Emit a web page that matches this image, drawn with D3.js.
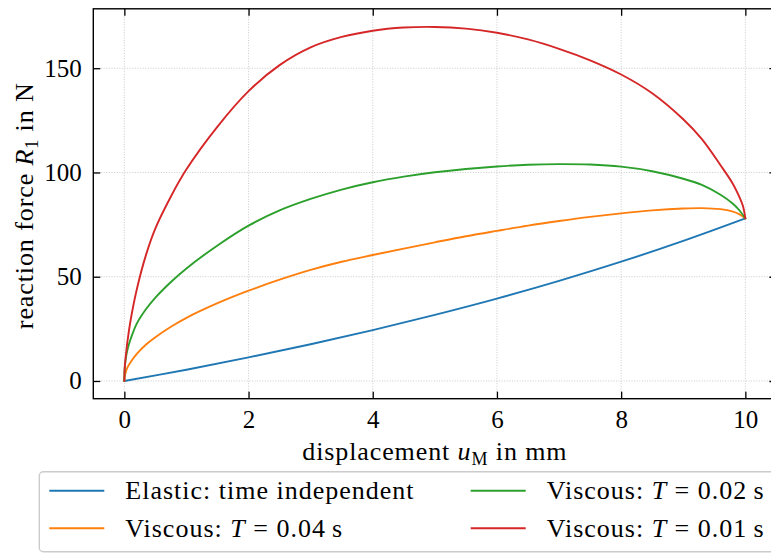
<!DOCTYPE html>
<html>
<head>
<meta charset="utf-8">
<script src="https://cdn.jsdelivr.net/npm/d3@7"></script>
<style>
  body { margin: 0; background: #fff; }
  svg { display: block; }
  text { font-family: "Liberation Serif", "Times New Roman", serif; fill: #000; }
</style>
</head>
<body>
<svg id="chart" width="771" height="554"></svg>
<script>
// values (displacement u in mm, force R in N)
var elasticU = [0, 1, 2, 3, 4, 5, 6, 7, 8, 9, 10];
var elasticR = [0, 5.4, 11.3, 17.6, 24.4, 31.7, 39.5, 48, 57.2, 67.2, 78];

var visc04U = [0, 0.005, 0.02, 0.05, 0.1, 0.2, 0.35, 0.5, 0.75, 1, 1.5, 2, 2.5, 3, 3.5, 4, 4.5, 5, 5.5, 6, 6.5, 7, 7.5, 8, 8.5, 9, 9.3, 9.6, 9.8, 9.9, 10];
var visc04R = [0, 2, 4, 6.5, 9, 13, 17.5, 21, 26, 30.3, 37.3, 43.3, 48.6, 53.3, 57.2, 60.4, 63.5, 66.5, 69.4, 72, 74.5, 76.7, 78.7, 80.4, 81.8, 82.7, 82.9, 82.4, 81.2, 80, 78];

var visc02U = [0, 0.005, 0.02, 0.05, 0.1, 0.2, 0.35, 0.5, 0.75, 1, 1.5, 2, 2.5, 3, 3.5, 4, 4.5, 5, 5.5, 6, 6.5, 7, 7.5, 8, 8.5, 9, 9.3, 9.6, 9.8, 9.9, 10];
var visc02R = [0, 5.5, 10, 15, 20, 27.5, 34.5, 40, 47.5, 54, 65, 74.5, 81.8, 87.3, 91.8, 95.3, 98, 100.1, 101.7, 102.9, 103.7, 104, 103.8, 102.8, 100.6, 97, 94, 89.3, 85, 82, 78];

var visc01U = [0, 0.005, 0.02, 0.05, 0.1, 0.2, 0.35, 0.5, 0.75, 1, 1.5, 2, 2.5, 3, 3.5, 4, 4.5, 5, 5.5, 6, 6.5, 7, 7.5, 8, 8.5, 9, 9.3, 9.6, 9.8, 9.9, 9.96, 10];
var visc01R = [0, 6, 11, 19, 29, 43.9, 60.6, 73.2, 88.5, 101.5, 122, 139, 151.5, 160, 165, 168, 169.5, 169.8, 169, 167, 163.8, 159.3, 153.8, 147, 138, 125.5, 116, 103.5, 94.5, 88.5, 84, 78];

var xTicks = [0, 2, 4, 6, 8, 10];
var yTicks = [0, 50, 100, 150];

var seriesNames = ["elastic", "visc04", "visc02", "visc01"];
var seriesColors = ["#1f77b4", "#ff7f0e", "#2ca02c", "#d62728"];

var svg = d3.select("#chart");
var margin = {top: 8.8, left: 93.3, bottom: 554 - 398.7, right: 771 - 776.4};
var width = 771 - margin.left - margin.right;
var height = 554 - margin.top - margin.bottom;

var xScale = d3.scaleLinear().domain([-0.5, 10.5]).range([0, width]);
var yScale = d3.scaleLinear().domain([-8.5, 178.5]).range([height, 0]);

var g = svg.append("g")
  .attr("transform", "translate(" + margin.left + "," + margin.top + ")");

// dotted grid
g.append("g").selectAll("line").data(xTicks).enter().append("line")
  .attr("x1", function(d) { return xScale(d); })
  .attr("x2", function(d) { return xScale(d); })
  .attr("y1", 0).attr("y2", height)
  .attr("stroke", "#bdbdbd").attr("stroke-width", 0.8)
  .attr("stroke-dasharray", "1,1.6");
g.append("g").selectAll("line").data(yTicks).enter().append("line")
  .attr("y1", function(d) { return yScale(d); })
  .attr("y2", function(d) { return yScale(d); })
  .attr("x1", 0).attr("x2", width)
  .attr("stroke", "#bdbdbd").attr("stroke-width", 0.8)
  .attr("stroke-dasharray", "1,1.6");

var line = d3.line()
  .x(function(d) { return xScale(d[0]); })
  .y(function(d) { return yScale(d[1]); })
  .curve(d3.curveCatmullRom.alpha(0.5));

var series = [
  d3.zip(elasticU, elasticR),
  d3.zip(visc04U, visc04R),
  d3.zip(visc02U, visc02R),
  d3.zip(visc01U, visc01R)
];

series.forEach(function(s, i) {
  g.append("path")
    .datum(s)
    .attr("id", seriesNames[i])
    .attr("fill", "none")
    .attr("stroke", seriesColors[i])
    .attr("stroke-width", 1.9)
    .attr("stroke-linejoin", "round")
    .attr("stroke-linecap", "round")
    .attr("d", line);
});

// axes, ticks pointing inwards on all four sides
var tickLen = 7;
var xAxisBottom = d3.axisBottom(xScale).tickValues(xTicks).tickSizeInner(-tickLen).tickSizeOuter(0).tickPadding(12);
var xAxisTop = d3.axisTop(xScale).tickValues(xTicks).tickSizeInner(-tickLen).tickSizeOuter(0).tickFormat("");
var yAxisLeft = d3.axisLeft(yScale).tickValues(yTicks).tickSizeInner(-tickLen).tickSizeOuter(0).tickPadding(11.6);
var yAxisRight = d3.axisRight(yScale).tickValues(yTicks).tickSizeInner(-tickLen).tickSizeOuter(0).tickFormat("");

function styleAxis(sel) {
  sel.select(".domain").remove();
  sel.selectAll(".tick line").attr("stroke", "#000").attr("stroke-width", 1.3);
  sel.selectAll(".tick text")
    .style("font-family", "'Liberation Serif', serif")
    .style("font-size", "25px")
    .attr("fill", "#000");
}

g.append("g").attr("transform", "translate(0," + height + ")").call(xAxisBottom).call(styleAxis);
g.append("g").call(xAxisTop).call(styleAxis);
g.append("g").call(yAxisLeft).call(styleAxis);
g.append("g").attr("transform", "translate(" + width + ",0)").call(yAxisRight).call(styleAxis);

g.append("rect")
  .attr("width", width).attr("height", height)
  .attr("fill", "none").attr("stroke", "#000").attr("stroke-width", 1.4);

// axis labels
var xLabel = svg.append("text")
  .attr("transform", "translate(" + (margin.left + width / 2) + ",460)")
  .attr("text-anchor", "middle")
  .style("font-size", "26px")
  .style("letter-spacing", "0.9px");
xLabel.append("tspan").text("displacement ");
xLabel.append("tspan").style("font-style", "italic").text("u");
xLabel.append("tspan").attr("dy", "0.25em").style("font-size", "18px").text("M");
xLabel.append("tspan").attr("dy", "-0.17em").text(" in mm");

var yLabel = svg.append("text")
  .attr("transform", "translate(33," + (margin.top + height / 2 + 2) + ")rotate(-90)")
  .attr("text-anchor", "middle")
  .style("font-size", "26px")
  .style("letter-spacing", "0.9px");
yLabel.append("tspan").text("reaction force ");
yLabel.append("tspan").style("font-style", "italic").text("R");
yLabel.append("tspan").attr("dy", "0.25em").style("font-size", "18px").text("1");
yLabel.append("tspan").attr("dy", "-0.17em").text(" in N");

// legend
var legend = svg.append("g");
legend.append("rect")
  .attr("x", 39.3).attr("y", 471.7)
  .attr("width", 800).attr("height", 80)
  .attr("rx", 4)
  .attr("fill", "#fff")
  .attr("stroke", "#cccccc").attr("stroke-width", 1.4);

var legendItems = [
  {i: 0, x: 49.3, y: 490.7, pre: "Elastic: time independent", val: null},
  {i: 1, x: 49.3, y: 528.3, pre: "Viscous: ", val: "0.04"},
  {i: 2, x: 470.7, y: 490.7, pre: "Viscous: ", val: "0.02"},
  {i: 3, x: 470.7, y: 528.3, pre: "Viscous: ", val: "0.01"}
];

legendItems.forEach(function(it) {
  legend.append("line")
    .attr("x1", it.x).attr("x2", it.x + 55)
    .attr("y1", it.y).attr("y2", it.y)
    .attr("stroke", seriesColors[it.i]).attr("stroke-width", 1.9);
  var t = legend.append("text")
    .attr("x", it.x + 76).attr("y", it.y + 8.6)
    .style("font-size", "26px")
    .style("letter-spacing", "1px")
    .attr("xml:space", "preserve");
  t.append("tspan").text(it.pre);
  if (it.val) {
    t.append("tspan").style("font-style", "italic").text("T");
    t.append("tspan").text("\u2005=\u2005" + it.val + "\u2009s");
  }
});
</script>
</body>
</html>
